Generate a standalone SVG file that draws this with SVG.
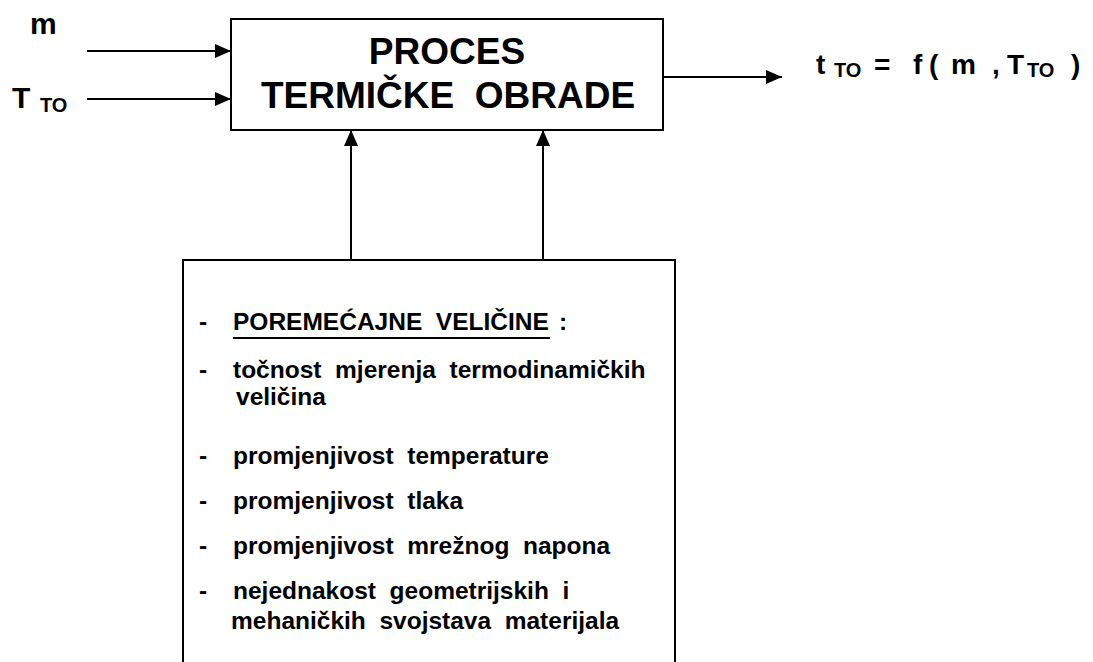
<svg xmlns="http://www.w3.org/2000/svg" width="1093" height="662" viewBox="0 0 1093 662">
<style>
  text { font-family: "Liberation Sans", Arial, sans-serif; font-weight: bold; fill: #000; white-space: pre; }
  .box { fill: #fff; stroke: #000; stroke-width: 2; }
  .conn { stroke: #000; stroke-width: 2; fill: none; }
  .title { font-size: 37px; text-anchor: middle; }
  .lbl { font-size: 30px; }
  .sub { font-size: 20px; }
  .f { font-size: 28px; }
  .fs { font-size: 20px; }
  .li { font-size: 24.5px; }
</style>
<defs>
  <marker id="ah" markerUnits="userSpaceOnUse" markerWidth="16" markerHeight="14" refX="16" refY="7" orient="auto">
    <path d="M0,0 L16,7 L0,14 z" fill="#000"/>
  </marker>
</defs>
<rect width="1093" height="662" fill="#fff"/>

<g id="connectors">
  <line class="conn" x1="87" y1="51" x2="231" y2="51" marker-end="url(#ah)"/>
  <line class="conn" x1="87" y1="99" x2="231" y2="99" marker-end="url(#ah)"/>
  <line class="conn" x1="663" y1="77" x2="782" y2="77" marker-end="url(#ah)"/>
  <line class="conn" x1="351" y1="260" x2="351" y2="130" marker-end="url(#ah)"/>
  <line class="conn" x1="543" y1="260" x2="543" y2="130" marker-end="url(#ah)"/>
</g>

<g id="input-m">
  <text class="lbl" x="30" y="34">m</text>
</g>

<g id="input-T">
  <text class="lbl" x="12" y="108">T</text>
  <text class="sub" x="40" y="112">TO</text>
</g>

<g id="process">
  <rect class="box" x="231" y="19" width="432" height="111"/>
  <text class="title" x="447" y="64">PROCES</text>
  <text class="title" x="448" y="108">TERMIČKE  OBRADE</text>
</g>

<g id="output">
  <text class="f" x="816" y="74">t</text>
  <text class="fs" x="834" y="77">TO</text>
  <text class="f" x="874" y="74">=</text>
  <text class="f" x="913" y="74">f</text>
  <text class="f" x="929" y="74">(</text>
  <text class="f" x="951" y="74">m</text>
  <text class="f" x="992" y="74">,</text>
  <text class="f" x="1007" y="74">T</text>
  <text class="fs" x="1027" y="77">TO</text>
  <text class="f" x="1071" y="74">)</text>
</g>

<g id="disturbances">
  <rect class="box" x="183" y="260" width="492" height="430"/>
  <text class="li" x="199" y="330">-</text>
  <text class="li" x="233" y="330">POREMEĆAJNE  VELIČINE</text>
  <line x1="233" y1="338" x2="550" y2="338" stroke="#000" stroke-width="2"/>
  <text class="li" x="559" y="330">:</text>
  <text class="li" x="199" y="378">-</text>
  <text class="li" x="233" y="378">točnost  mjerenja  termodinamičkih</text>
  <text class="li" x="236" y="405">veličina</text>
  <text class="li" x="199" y="464">-</text>
  <text class="li" x="233" y="464">promjenjivost  temperature</text>
  <text class="li" x="199" y="509">-</text>
  <text class="li" x="233" y="509">promjenjivost  tlaka</text>
  <text class="li" x="199" y="554">-</text>
  <text class="li" x="233" y="554">promjenjivost  mrežnog  napona</text>
  <text class="li" x="199" y="599">-</text>
  <text class="li" x="233" y="599">nejednakost  geometrijskih  i</text>
  <text class="li" x="231" y="629">mehaničkih  svojstava  materijala</text>
</g>
</svg>
